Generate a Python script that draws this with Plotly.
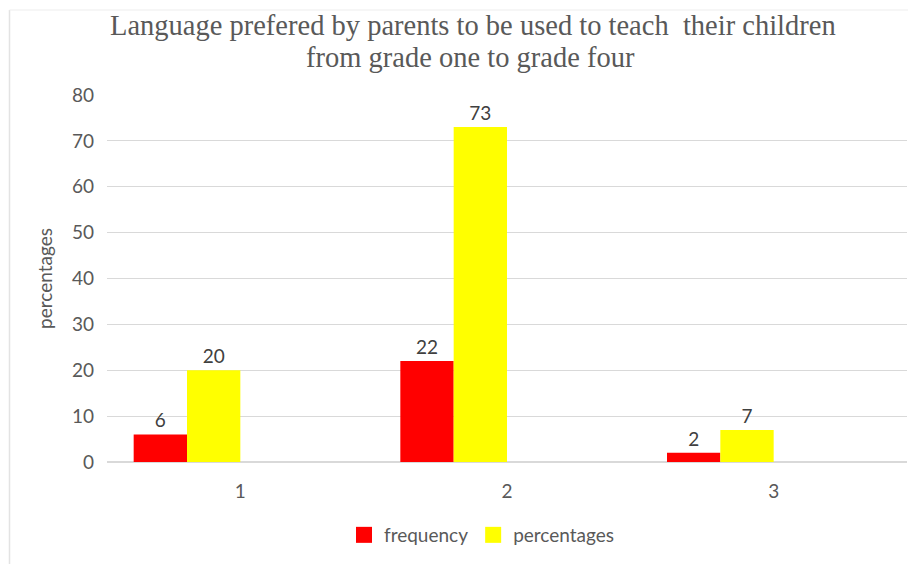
import plotly.graph_objects as go

categories = [1, 2, 3]
tick_labels = ["1", "2", "3"]
frequency = [6, 22, 2]
percentages = [20, 73, 7]
title_lines = ["Language prefered by parents to be used to teach  their children",
               "from grade one to grade four"]

# page body has an 8px margin; lay out in screenshot pixels minus 8
OFF = 8
W, H = 916 - OFF, 564 - OFF
L, T = 107 - OFF, 95 - OFF
PW, PH = 800, 367
R, B = W - L - PW, H - T - PH
FONT = "Lato"
FS = 19
RED, YELLOW = "#FF0000", "#FFFF00"

fig = go.Figure()
for name, vals, col, off in [("frequency", frequency, RED, -0.4),
                             ("percentages", percentages, YELLOW, -0.2)]:
    fig.add_trace(go.Bar(
        x=categories, y=vals, name=name,
        marker=dict(color=col, line=dict(width=0)),
        width=0.2, offset=off, showlegend=False,
        text=[str(v) for v in vals], textposition="outside",
        textfont=dict(family=FONT, size=FS, color="#404040"),
        cliponaxis=False,
    ))
for name, col in [("frequency", RED), ("percentages", YELLOW)]:
    fig.add_trace(go.Scatter(
        x=[None], y=[None], mode="markers", name=name,
        marker=dict(symbol="square", size=16, color=col, line=dict(width=0)),
    ))

def py(p):
    return 1 - (p - OFF - T) / PH

def px(p):
    return (p - OFF - L) / PW

annotations = [
    dict(text=title_lines[0], x=px(473), y=py(25)),
    dict(text=title_lines[1], x=px(470), y=py(57)),
]
for a in annotations:
    a.update(xref="paper", yref="paper", xanchor="center", yanchor="middle",
             showarrow=False, font=dict(family="Liberation Serif", size=28.5, color="#595959"))

fig.update_layout(
    width=W, height=H,
    margin=dict(l=L, r=R, t=T, b=B, autoexpand=False),
    paper_bgcolor="white", plot_bgcolor="white",
    annotations=annotations,
    barmode="overlay",
    showlegend=True,
    legend=dict(
        orientation="h", x=px(482), xanchor="center",
        y=py(535), yanchor="middle",
        font=dict(family=FONT, size=FS, color="#595959"),
        itemwidth=30, traceorder="normal",
    ),
    xaxis=dict(
        range=[0.5, 3.5], tickvals=categories, ticktext=tick_labels,
        showgrid=False, zeroline=False, showline=False, ticks="",
        tickfont=dict(family=FONT, size=FS, color="#595959"),
        ticklabelstandoff=16, automargin=False,
    ),
    yaxis=dict(
        range=[0, 80], dtick=10, showgrid=True, gridcolor="#D9D9D9", gridwidth=1,
        zeroline=True, zerolinecolor="#D9D9D9", showline=False, ticks="",
        tickfont=dict(family=FONT, size=FS, color="#595959"),
        ticklabelstandoff=12, automargin=False,
        title=dict(text="percentages", font=dict(family=FONT, size=FS, color="#595959"), standoff=14),
    ),
    shapes=[
        dict(type="line", xref="paper", yref="paper",
             x0=px(9.5), x1=px(9.5), y0=py(570), y1=py(10),
             line=dict(color="#E3E3E3", width=1.5), layer="below"),
        dict(type="line", xref="paper", yref="paper",
             x0=px(9.5), x1=px(930), y0=py(10), y1=py(10),
             line=dict(color="#EDEDED", width=1), layer="below"),
    ],
)

fig.write_html("out.html")
